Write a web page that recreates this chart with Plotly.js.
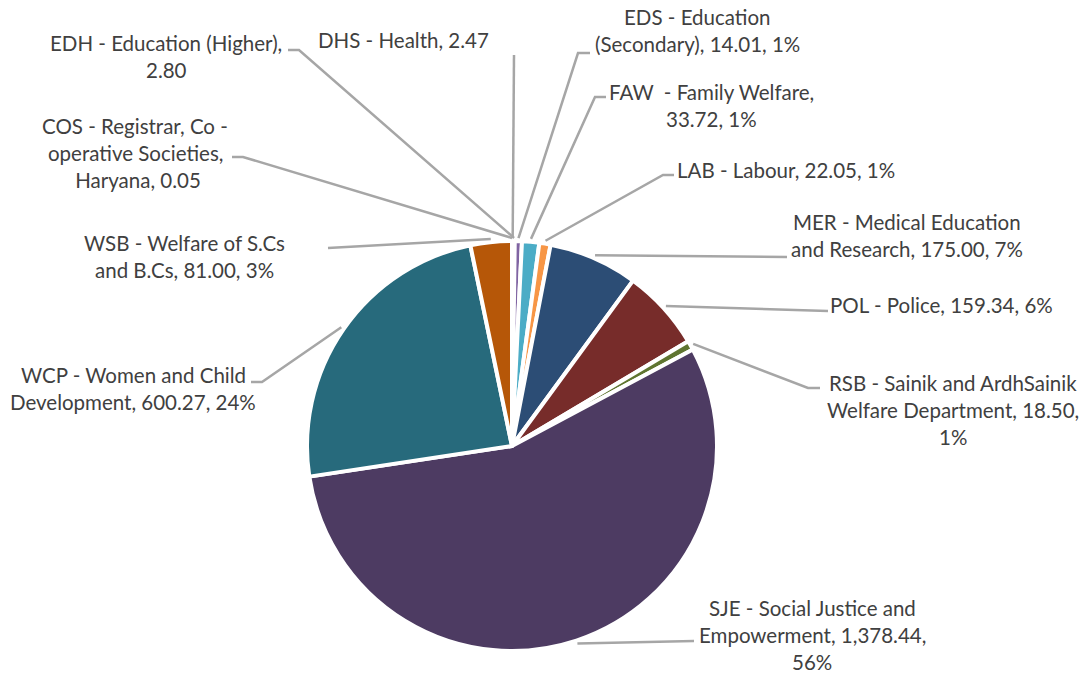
<!DOCTYPE html>
<html>
<head>
<meta charset="utf-8">
<script src="https://cdn.plot.ly/plotly-3.0.1.min.js"></script>
<style>
  html, body { margin: 0; padding: 0; background: #fff; }
  #chart { width: 1087px; height: 675px; }
</style>
</head>
<body>
<div id="chart"></div>
<script>
const W = 1087;
const H = 675;

// chart data (alphabetical, drawn clockwise from 12 o'clock)
const codes = ['COS', 'DHS', 'EDH', 'EDS', 'FAW', 'LAB', 'MER', 'POL', 'RSB', 'SJE', 'WCP', 'WSB'];
const amounts = [0.05, 2.47, 2.80, 14.01, 33.72, 22.05, 175.00, 159.34, 18.50, 1378.44, 600.27, 81.00];
const labelLines = [
    ['COS - Registrar, Co -', 'operative Societies,', ' Haryana, 0.05'],
    ['DHS - Health, 2.47'],
    ['EDH - Education (Higher),', '2.80'],
    ['EDS - Education', '(Secondary), 14.01, 1%'],
    ['FAW  - Family Welfare,', '33.72, 1%'],
    ['LAB - Labour, 22.05, 1%'],
    ['MER - Medical Education', 'and Research, 175.00, 7%'],
    ['POL - Police, 159.34, 6%'],
    ['RSB - Sainik and ArdhSainik', 'Welfare Department, 18.50,', '1%'],
    ['SJE - Social Justice and', 'Empowerment, 1,378.44,', '56%'],
    ['WCP - Women and Child', 'Development, 600.27, 24%'],
    ['WSB - Welfare of S.Cs', 'and B.Cs, 81.00, 3%'],
];
const sliceColors = ['#4F81BD', '#C0504D', '#9BBB59', '#8064A2', '#4BACC6', '#F79646',
                     '#2C4D75', '#772C2A', '#5F7530', '#4D3B62', '#276A7C', '#B65708'];

// placement of the pie and the data labels, in page pixels
const pieCenter = [512, 446];
const pieRadius = 205;
const labelPos = [
    [135, 126], [403, 40], [166, 43], [697, 17], [711, 92], [786, 170],
    [907, 222], [941, 305], [953, 383], [812, 608], [133, 375], [184, 243],
];
const leaderEnd = [
    [232, 157], [514, 55], [288, 50], [590, 53], [606, 97], [674, 175],
    [787, 257], [828, 311], [820, 388], [694, 641], [251, 382], [328, 248],
];
const leaderElbow = [
    [243, 157], null, [299, 50], [578, 53], [595, 97], [663, 175],
    null, null, [808, 388], null, [262, 382], null,
];
const lineGap = 27;

const px = (x) => x / W;
const py = (y) => 1 - y / H;

const total = amounts.reduce((a, b) => a + b, 0);

// leader lines start at the middle of each slice, just outside the rim
let cum = 0;
const shapes = amounts.map((v, i) => {
    const mid = (cum + v / 2) / total * 2 * Math.PI;
    cum += v;
    const r = pieRadius + 3;
    const sx = pieCenter[0] + r * Math.sin(mid);
    const sy = pieCenter[1] - r * Math.cos(mid);
    const pts = [[sx, sy]];
    if (leaderElbow[i]) pts.push(leaderElbow[i]);
    pts.push(leaderEnd[i]);
    const path = pts.map((p, k) => (k ? 'L' : 'M') + px(p[0]).toFixed(5) + ',' + py(p[1]).toFixed(5)).join(' ');
    return {
        type: 'path',
        xref: 'paper',
        yref: 'paper',
        path,
        line: {color: '#A6A6A6', width: 2.5},
    };
});

const annotations = [];
labelLines.forEach((lines, i) => {
    lines.forEach((txt, k) => {
        annotations.push({
            xref: 'paper',
            yref: 'paper',
            x: px(labelPos[i][0]),
            y: py(labelPos[i][1] + k * lineGap),
            xanchor: 'center',
            yanchor: 'middle',
            text: txt,
            showarrow: false,
            font: {family: 'Lato, "Open Sans", sans-serif', size: 20.5, color: '#404040'},
        });
    });
});

const data = [{
    type: 'pie',
    values: amounts,
    labels: codes,
    sort: false,
    direction: 'clockwise',
    rotation: 0,
    textinfo: 'none',
    hoverinfo: 'label+value+percent',
    marker: {
        colors: sliceColors,
        line: {color: '#FFFFFF', width: 4},
    },
    domain: {
        x: [px(pieCenter[0] - pieRadius), px(pieCenter[0] + pieRadius)],
        y: [py(pieCenter[1] + pieRadius), py(pieCenter[1] - pieRadius)],
    },
}];

const layout = {
    width: W,
    height: H,
    margin: {l: 0, r: 0, t: 0, b: 0},
    showlegend: false,
    paper_bgcolor: '#FFFFFF',
    shapes,
    annotations,
};

Plotly.newPlot('chart', data, layout, {displayModeBar: false, staticPlot: true});
</script>
</body>
</html>
